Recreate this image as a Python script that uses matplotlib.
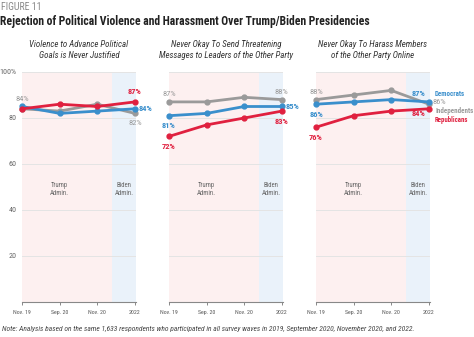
import matplotlib.pyplot as plt
from matplotlib import font_manager

# pick a narrow font if there is one
names = set(f.name for f in font_manager.fontManager.ttflist)
FONT = 'DejaVu Sans'
for cand in ['Roboto Condensed', 'Liberation Sans Narrow', 'Roboto', 'Liberation Sans']:
    if cand in names:
        FONT = cand
        break
plt.rcParams['font.family'] = [FONT, 'DejaVu Sans']

waves = ["Nov. 19", "Sep. 20", "Nov. 20", "2022"]
panel_titles = ["Violence to Advance Political\nGoals is Never Justified",
                "Never Okay To Send Threatening\nMessages to Leaders of the Other Party",
                "Never Okay To Harass Members\nof the Other Party Online"]
# widest line of each subtitle in the reference, pixels
title_widths = [99, 135, 110]

# values per panel
independents = [[84, 83, 86, 82], [87, 87, 89, 88], [88, 90, 92, 86]]
democrats = [[85, 82, 83, 84], [81, 82, 85, 85], [86, 87, 88, 87]]
republicans = [[84, 86, 85, 87], [72, 77, 80, 83], [76, 81, 83, 84]]

RED = '#e0203f'
BLUE = '#3a8fcc'
GRAY = '#9a9a9a'
PINK_BG = '#fdf0f0'
BLUE_BG = '#eaf2fa'

W, H = 474, 337
fig = plt.figure(figsize=(W / 100, H / 100), dpi=100)
renderer = fig.canvas.get_renderer()


def px(x, y):
    return x / W, 1 - y / H


def fit(t, width):
    # scale the font so the text takes the reference's width
    w = t.get_window_extent(renderer).width
    t.set_fontsize(t.get_fontsize() * width / w)
    return t


def fitted_size(text, width, **kw):
    probe = fig.text(0, 0, text, fontsize=7, **kw)
    size = fit(probe, width).get_fontsize()
    probe.remove()
    return size


fit(fig.text(*px(1, 7), "FIGURE 11", fontsize=7, color='#8a8a8a', va='center', ha='left'), 41)
fit(fig.text(*px(0, 22), "Rejection of Political Violence and Harassment Over Trump/Biden Presidencies",
             fontsize=10, fontweight='bold', color='#222222', va='center', ha='left'), 368)
fit(fig.text(*px(2, 329), "Note: Analysis based on the same 1,633 respondents who participated in all survey "
             "waves in 2019, September 2020, November 2020, and 2022.",
             fontsize=6, style='italic', color='#444444', va='center', ha='left'), 414)

LABEL_SIZE = fitted_size("87%", 14, fontweight='bold')
TICK_SIZE = fitted_size("Nov. 19", 18)
YTICK_SIZE = fitted_size("100%", 17)
ADMIN_SIZE = fitted_size("Admin.", 19)

lefts = [22, 169, 316]
x = list(range(len(waves)))


def lab(ax, i, val, text, color, dx, dy, bold=False, ha='center'):
    ax.annotate(text, (i, val), xytext=(dx, dy), textcoords='offset pixels',
                ha=ha, va='center', fontsize=LABEL_SIZE, color=color,
                fontweight='bold' if bold else 'normal', annotation_clip=False)


for p in range(3):
    l = lefts[p]
    ax = fig.add_axes([l / W, 35 / H, 114 / W, 230 / H])
    ax.set_xlim(0, 3.03)
    ax.set_ylim(0, 100)
    ax.axvspan(0, 2.39, color=PINK_BG, lw=0, zorder=0)
    ax.axvspan(2.39, 3.03, color=BLUE_BG, lw=0, zorder=0)
    for g in [20, 40, 60, 80, 100]:
        ax.axhline(g, color='#e4e4e4', lw=0.7, zorder=1)

    ax.plot(x, independents[p], color=GRAY, lw=2, marker='o', ms=3.5, zorder=3, clip_on=False)
    ax.plot(x, democrats[p], color=BLUE, lw=2, marker='o', ms=3.5, zorder=4, clip_on=False)
    ax.plot(x, republicans[p], color=RED, lw=2, marker='o', ms=3.5, zorder=5, clip_on=False)

    ax.text(1, 49, "Trump\nAdmin.", ha='center', va='center', fontsize=ADMIN_SIZE, color='#666666',
            linespacing=1.25)
    ax.text(2.71, 49, "Biden\nAdmin.", ha='center', va='center', fontsize=ADMIN_SIZE, color='#666666',
            linespacing=1.25)

    for s in ['top', 'right', 'left']:
        ax.spines[s].set_visible(False)
    ax.spines['bottom'].set_color('#888888')
    ax.spines['bottom'].set_linewidth(0.8)
    ax.set_xticks(x)
    ax.set_xticklabels(waves)
    ax.tick_params(axis='x', length=2.5, width=0.7, color='#888888', labelsize=TICK_SIZE,
                   labelcolor='#555555', pad=3)
    if p == 0:
        ax.set_yticks([20, 40, 60, 80, 100])
        ax.set_yticklabels(["20", "40", "60", "80", "100%"])
        ax.tick_params(axis='y', length=0, labelsize=YTICK_SIZE, labelcolor='#666666', pad=4)
    else:
        ax.set_yticks([])

    widest = max(panel_titles[p].split("\n"), key=len)
    size = fitted_size(widest, title_widths[p], style='italic')
    fig.text((l + 57) / W, 1 - 50 / H, panel_titles[p], ha='center', va='center',
             fontsize=size, style='italic', color='#333333', linespacing=1.3)

ax1, ax2, ax3 = fig.axes
lab(ax1, 0, independents[0][0], "84%", GRAY, 0, 10)
lab(ax1, 3, republicans[0][3], "87%", RED, 0, 10, bold=True)
lab(ax1, 3, democrats[0][3], "84%", BLUE, 4, 0, bold=True, ha='left')
lab(ax1, 3, independents[0][3], "82%", GRAY, 0, -10)

lab(ax2, 0, independents[1][0], "87%", GRAY, 0, 8)
lab(ax2, 0, democrats[1][0], "81%", BLUE, 0, -10, bold=True)
lab(ax2, 0, republicans[1][0], "72%", RED, 0, -10, bold=True)
lab(ax2, 3, independents[1][3], "88%", GRAY, 0, 8)
lab(ax2, 3, democrats[1][3], "85%", BLUE, 4, 0, bold=True, ha='left')
lab(ax2, 3, republicans[1][3], "83%", RED, 0, -10, bold=True)

lab(ax3, 0, independents[2][0], "88%", GRAY, 0, 8)
lab(ax3, 0, democrats[2][0], "86%", BLUE, 0, -10, bold=True)
lab(ax3, 0, republicans[2][0], "76%", RED, 0, -10, bold=True)
lab(ax3, 3, democrats[2][3], "87%", BLUE, -3, 8, bold=True, ha='right')
lab(ax3, 3, independents[2][3], "86%", GRAY, 4, 2, ha='left')
lab(ax3, 3, republicans[2][3], "84%", RED, -3, -5, bold=True, ha='right')
for word, color, yy, wd in [("Democrats", BLUE, 94, 30), ("Independents", GRAY, 111, 38),
                            ("Republicans", RED, 120, 33)]:
    fit(fig.text(*px(435, yy), word, fontsize=6, color=color, fontweight='bold', va='center'), wd)

fig.savefig("out.png", dpi=100)
